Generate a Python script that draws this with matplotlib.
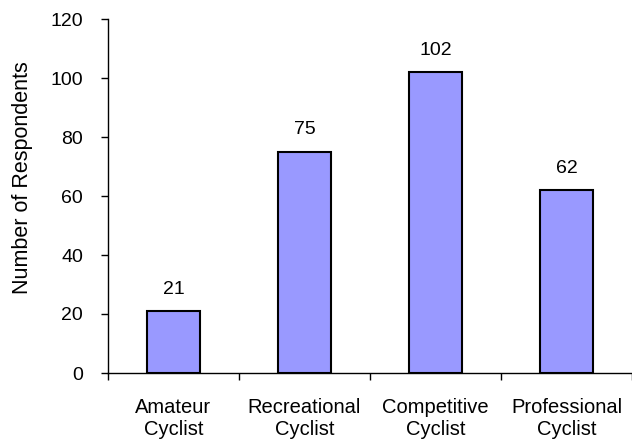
import matplotlib
matplotlib.use('Agg')
from matplotlib import pyplot as plt
import numpy as np

plt.rcParams['font.family'] = ['Liberation Sans', 'DejaVu Sans']

# categories and counts
categories = ['Amateur\nCyclist', 'Recreational\nCyclist', 'Competitive\nCyclist', 'Professional\nCyclist']
respondents = [21, 75, 102, 62]

barColor = '#9999ff'

fig = plt.figure(figsize=(6.32, 4.44), dpi=100)
ax = fig.add_axes([108/632, 1-373/444, 1-108/632, (373-19)/444])

x = np.arange(len(categories))
bars = ax.bar(x, respondents, width=0.41, color=barColor, edgecolor='black', linewidth=1.5, zorder=3)

# value labels above bars
for xi, v in zip(x, respondents):
    ax.annotate(str(v), (xi, v), xytext=(0, 12.5), textcoords='offset points',
                ha='center', va='baseline', fontsize=14)

ax.set_xlim(-0.5, len(categories)-0.5)
ax.set_ylim(0, 120)
ax.set_yticks(np.arange(0, 121, 20))

ax.set_xticks(x)
ax.set_xticklabels(categories, fontsize=14.5, linespacing=1.2)
ax.set_xticks(np.arange(-0.5, len(categories), 1.0), minor=True)
ax.tick_params('x', which='major', length=0, pad=18)
ax.tick_params('x', which='minor', length=5, width=1, direction='out')
ax.tick_params('y', which='major', length=5, width=1, direction='out', labelsize=14, pad=13)

ax.spines['top'].set_visible(False)
ax.spines['right'].set_visible(False)
ax.spines['left'].set_linewidth(1)
ax.spines['bottom'].set_linewidth(1)
ax.spines['bottom'].set_zorder(4)

ax.set_ylabel('Number of Respondents', fontsize=15.5)
ax.yaxis.set_label_coords(-0.143, 0.553)

plt.savefig('out.png', dpi=100)
